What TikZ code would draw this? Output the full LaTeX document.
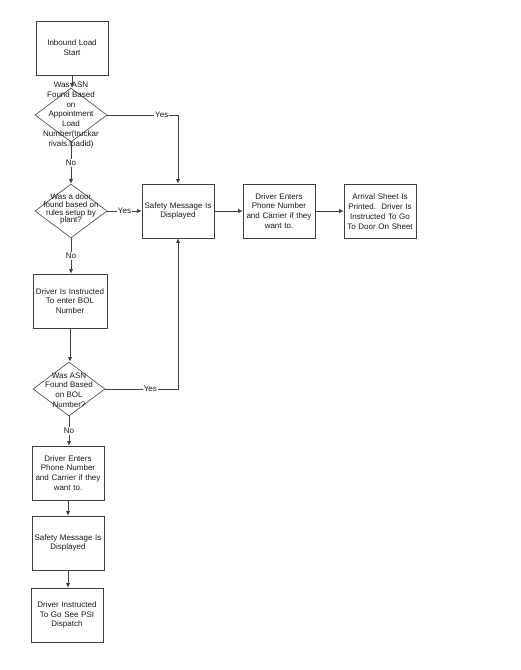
\documentclass[tikz,border=0pt]{standalone}
\usepackage{fontspec}
\setmainfont{Liberation Sans}
\usetikzlibrary{shapes.geometric,arrows.meta}
\begin{document}
\begin{tikzpicture}[x=1pt,y=-1pt,
  every node/.style={font=\fontsize{8}{9.8}\selectfont, text=black!90},
  box/.style={draw=black!75, line width=0.6pt, minimum width=72pt, minimum height=54pt, align=center, inner sep=0pt, text width=70pt},
  dia/.style={draw=black!75, diamond, line width=0.6pt, minimum width=72pt, minimum height=54pt, inner sep=0pt},
  txt/.style={align=center, inner sep=0pt},
  lbl/.style={fill=white, inner sep=1pt},
  arr/.style={draw=black!75, line width=0.6pt, -{Latex[length=4.5pt,width=4pt]}}]
\useasboundingbox (0,0) rectangle (520,670);
% nodes
\node[box] (b1) at (72,48) {Inbound Load\\Start};
\node[dia] (d1) at (71,115) {};
\node[txt] (t1) at (71,115) {Was ASN\\Found Based\\on\\Appointment\\Load\\Number(truckar\\rivals.loadid)};
\node[dia] (d2) at (71,211) {};
\node[txt, font=\fontsize{8}{7.9}\selectfont] (t2) at (71,209) {Was a door\\found based on\\rules setup by\\plant?};
\node[box] (s1) at (178,211) {Safety Message Is\\Displayed};
\node[box] (dr) at (279,211) {Driver Enters\\Phone Number\\and Carrier if they\\want to.};
\node[box] (ar) at (380,211.5) {Arrival Sheet Is\\Printed.\ \ Driver Is\\Instructed To Go\\To Door On Sheet};
\node[box, minimum width=74pt] (b3) at (70,301) {Driver Is Instructed\\To enter BOL\\Number};
\node[dia] (d3) at (69,389) {};
\node[txt] (t3) at (69,390) {Was ASN\\Found Based\\on BOL\\Number?};
\node[box] (b4) at (68,473) {Driver Enters\\Phone Number\\and Carrier if they\\want to.};
\node[box] (b5) at (68,543) {Safety Message Is\\Displayed};
\node[box] (b6) at (67,615) {Driver Instructed\\To Go See PSI\\Dispatch};
% connectors
\draw[arr] (b1.south) -- (b1.south |- d1.north);
\draw[arr] (d1.east) -| node[lbl, pos=0.385]{Yes} (s1.north);
\draw[arr] (d1.south) -- node[lbl]{No} (d2.north);
\draw[arr] (d2.east) -- node[lbl]{Yes} (s1.west);
\draw[arr] (s1.east) -- (dr.west);
\draw[arr] (dr.east) -- (ar.west |- dr.east);
\draw[arr] (d2.south) -- node[lbl]{No} (d2.south |- b3.north);
\draw[arr] (b3.south) -- (b3.south |- d3.north);
\draw[arr] (d3.east) -| node[lbl, pos=0.31]{Yes} (s1.south);
\draw[arr] (d3.south) -- node[lbl]{No} (d3.south |- b4.north);
\draw[arr] (b4.south) -- (b4.south |- b5.north);
\draw[arr] (b5.south) -- (b5.south |- b6.north);
\end{tikzpicture}
\end{document}
